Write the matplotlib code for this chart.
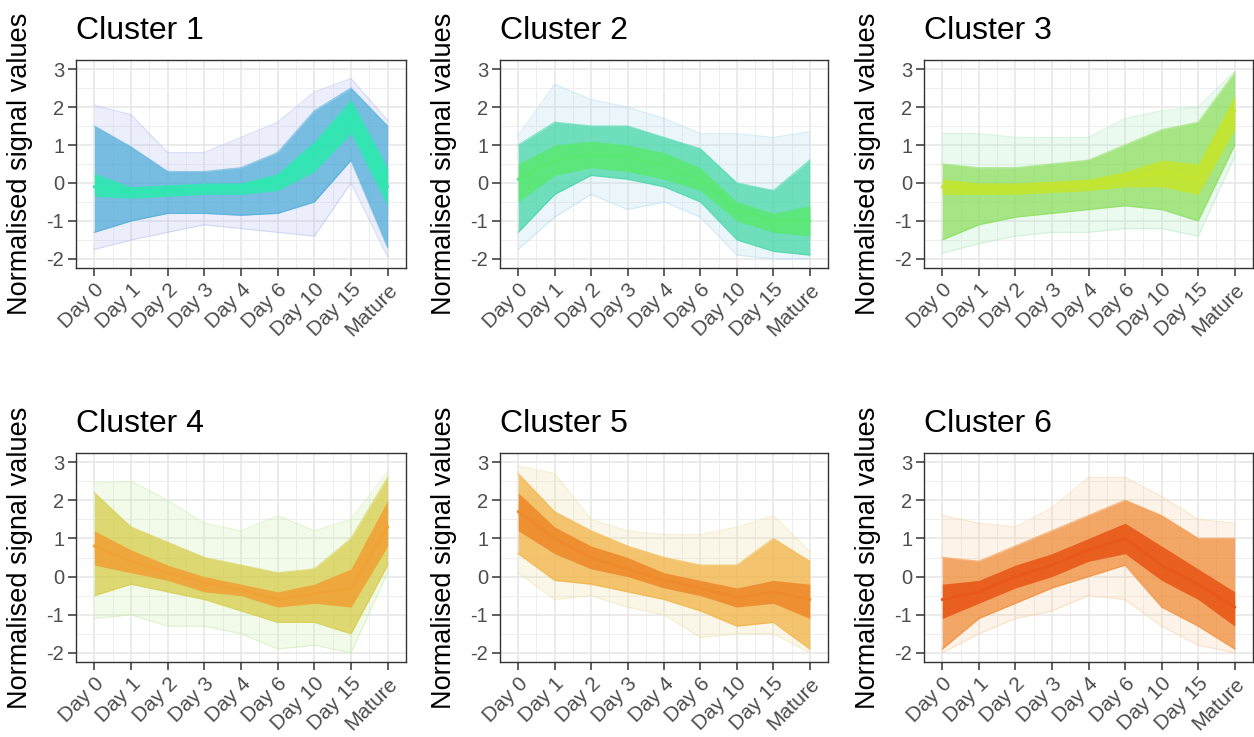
import numpy as np
import matplotlib
matplotlib.use("Agg")
import matplotlib.pyplot as plt

plt.rcParams['font.family'] = ['Liberation Sans', 'DejaVu Sans']

timepoints = ["Day 0", "Day 1", "Day 2", "Day 3", "Day 4", "Day 6", "Day 10", "Day 15", "Mature"]
cluster_names = ["Cluster 1", "Cluster 2", "Cluster 3", "Cluster 4", "Cluster 5", "Cluster 6"]

# Envelope of all profiles (faint outliers), dense band and core, per cluster
c1_faint_hi = [2.05, 1.8, 0.8, 0.8, 1.2, 1.6, 2.4, 2.75, 1.65]
c1_faint_lo = [-1.75, -1.5, -1.3, -1.1, -1.2, -1.3, -1.4, 0.0, -1.95]
c1_dense_hi = [1.5, 0.95, 0.3, 0.3, 0.4, 0.8, 1.9, 2.5, 1.5]
c1_dense_lo = [-1.3, -1.0, -0.8, -0.8, -0.85, -0.8, -0.5, 0.6, -1.7]
c1_core_hi = [0.25, -0.1, -0.05, 0.0, 0.0, 0.25, 1.1, 2.2, 0.4]
c1_core_lo = [-0.35, -0.4, -0.35, -0.3, -0.3, -0.2, 0.3, 1.3, -0.6]
c1_center = [-0.1, -0.25, -0.2, -0.15, -0.1, 0.05, 0.8, 1.8, -0.1]

c2_faint_hi = [1.25, 2.6, 2.2, 2.0, 1.7, 1.3, 1.3, 1.2, 1.35]
c2_faint_lo = [-1.75, -0.9, -0.3, -0.7, -0.5, -0.9, -1.9, -2.0, -2.0]
c2_dense_hi = [1.0, 1.6, 1.5, 1.5, 1.2, 0.9, 0.0, -0.2, 0.6]
c2_dense_lo = [-1.3, -0.3, 0.2, 0.1, -0.1, -0.5, -1.5, -1.8, -1.9]
c2_core_hi = [0.5, 1.0, 1.1, 1.0, 0.8, 0.4, -0.5, -0.8, -0.6]
c2_core_lo = [-0.5, 0.2, 0.4, 0.3, 0.1, -0.2, -1.0, -1.3, -1.4]
c2_center = [0.1, 0.6, 0.75, 0.7, 0.45, 0.1, -0.7, -1.0, -1.0]

c3_faint_hi = [1.3, 1.3, 1.2, 1.2, 1.2, 1.7, 1.9, 2.0, 2.95]
c3_faint_lo = [-1.85, -1.6, -1.4, -1.3, -1.3, -1.2, -1.2, -1.4, 0.7]
c3_dense_hi = [0.5, 0.4, 0.4, 0.5, 0.6, 1.0, 1.4, 1.6, 2.9]
c3_dense_lo = [-1.5, -1.1, -0.9, -0.8, -0.7, -0.6, -0.7, -1.0, 1.0]
c3_core_hi = [0.1, 0.0, 0.0, 0.05, 0.1, 0.3, 0.6, 0.5, 2.3]
c3_core_lo = [-0.3, -0.3, -0.3, -0.25, -0.2, -0.1, -0.1, -0.3, 1.4]
c3_center = [-0.1, -0.1, -0.1, -0.1, -0.05, 0.1, 0.3, 0.1, 1.9]

c4_faint_hi = [2.45, 2.5, 2.0, 1.4, 1.2, 1.6, 1.2, 1.5, 2.75]
c4_faint_lo = [-1.1, -1.0, -1.3, -1.3, -1.5, -1.9, -1.8, -2.0, 0.1]
c4_dense_hi = [2.2, 1.3, 0.9, 0.5, 0.3, 0.1, 0.2, 1.0, 2.6]
c4_dense_lo = [-0.5, -0.2, -0.4, -0.6, -0.9, -1.2, -1.2, -1.5, 0.3]
c4_core_hi = [1.2, 0.7, 0.3, 0.0, -0.2, -0.4, -0.2, 0.2, 2.0]
c4_core_lo = [0.3, 0.1, -0.1, -0.4, -0.5, -0.8, -0.7, -0.8, 0.8]
c4_center = [0.8, 0.4, 0.1, -0.15, -0.35, -0.6, -0.45, -0.3, 1.3]

c5_faint_hi = [2.9, 2.7, 1.5, 1.2, 1.1, 1.1, 1.3, 1.6, 0.65]
c5_faint_lo = [0.1, -0.6, -0.5, -0.8, -1.0, -1.6, -1.5, -1.5, -2.0]
c5_dense_hi = [2.7, 1.7, 1.2, 0.8, 0.5, 0.3, 0.3, 1.0, 0.4]
c5_dense_lo = [0.6, -0.1, -0.2, -0.4, -0.6, -0.9, -1.3, -1.2, -1.9]
c5_core_hi = [2.2, 1.3, 0.8, 0.5, 0.1, -0.1, -0.3, -0.1, -0.2]
c5_core_lo = [1.2, 0.6, 0.2, 0.0, -0.3, -0.5, -0.8, -0.7, -1.1]
c5_center = [1.7, 1.0, 0.5, 0.2, -0.1, -0.3, -0.55, -0.4, -0.6]

c6_faint_hi = [1.6, 1.4, 1.3, 1.8, 2.6, 2.6, 2.1, 1.5, 1.4]
c6_faint_lo = [-2.0, -1.5, -1.1, -0.9, -0.5, -0.6, -1.3, -1.8, -2.0]
c6_dense_hi = [0.5, 0.4, 0.8, 1.2, 1.6, 2.0, 1.6, 1.0, 1.0]
c6_dense_lo = [-1.9, -1.1, -0.7, -0.3, 0.0, 0.3, -0.8, -1.3, -1.9]
c6_core_hi = [-0.2, -0.1, 0.3, 0.6, 1.0, 1.4, 0.8, 0.2, -0.4]
c6_core_lo = [-1.1, -0.7, -0.3, 0.0, 0.4, 0.6, -0.1, -0.6, -1.3]
c6_center = [-0.6, -0.4, 0.0, 0.3, 0.7, 1.0, 0.3, -0.2, -0.8]

clusters = [
    (c1_faint_hi, c1_faint_lo, c1_dense_hi, c1_dense_lo, c1_core_hi, c1_core_lo, c1_center),
    (c2_faint_hi, c2_faint_lo, c2_dense_hi, c2_dense_lo, c2_core_hi, c2_core_lo, c2_center),
    (c3_faint_hi, c3_faint_lo, c3_dense_hi, c3_dense_lo, c3_core_hi, c3_core_lo, c3_center),
    (c4_faint_hi, c4_faint_lo, c4_dense_hi, c4_dense_lo, c4_core_hi, c4_core_lo, c4_center),
    (c5_faint_hi, c5_faint_lo, c5_dense_hi, c5_dense_lo, c5_core_hi, c5_core_lo, c5_center),
    (c6_faint_hi, c6_faint_lo, c6_dense_hi, c6_dense_lo, c6_core_hi, c6_core_lo, c6_center),
]

# (faint colour, band colour, core colour)
palettes = [
    ("#a9b8ee", "#4aaad8", "#2ee8b0"),
    ("#a8d8ee", "#3fd6a4", "#5ae874"),
    ("#a8eab8", "#8ade5a", "#c4e62e"),
    ("#c4eca0", "#d6cc44", "#f0a236"),
    ("#ecdf9c", "#f2b03e", "#ee8a2c"),
    ("#f6cc98", "#f08a34", "#e85818"),
]

fig = plt.figure(figsize=(12.54, 7.37), dpi=100)
W, H = 1254, 737
col_left = [76, 500, 924]
col_right = [406, 828, 1253]
row_top = [60, 453]
row_bot = [268, 662]
ylabel_right_px = [33, 457, 881]

x = np.arange(len(timepoints))

for i, (name, data, pal) in enumerate(zip(cluster_names, clusters, palettes)):
    r, c = divmod(i, 3)
    ax = fig.add_axes([col_left[c] / W, 1 - row_bot[r] / H,
                       (col_right[c] - col_left[c]) / W, (row_bot[r] - row_top[r]) / H])
    fhi, flo, dhi, dlo, chi, clo, cen = [np.array(v) for v in data]
    fc, bc, cc = pal
    ax.fill_between(x, flo, fhi, color=fc, alpha=0.22, lw=0, zorder=2)
    for arr in (fhi, flo):
        ax.plot(x, arr, color=fc, alpha=0.45, lw=0.8, zorder=2)
    ax.fill_between(x, dlo, dhi, color=bc, alpha=0.72, lw=0, zorder=3)
    for arr in (dhi, dlo):
        ax.plot(x, arr, color=bc, alpha=0.55, lw=1.0, zorder=3)
    ax.fill_between(x, clo, chi, color=cc, alpha=0.9, lw=0, zorder=4)
    ax.plot(x, cen, color=cc, lw=2.0, zorder=5)

    ax.set_xlim(-0.4, 8.37)
    ax.set_ylim(-2.24, 3.24)
    ax.set_xticks(x)
    ax.set_xticklabels(timepoints, rotation=45, ha='right', va='top',
                       rotation_mode='anchor', fontsize=15, color='#4d4d4d')
    ax.set_xticks(np.arange(-0.5, 8.6, 1.0), minor=True)
    ax.set_yticks([-2, -1, 0, 1, 2, 3])
    ax.set_yticklabels(["-2", "-1", "0", "1", "2", "3"], fontsize=14.5, color='#4d4d4d')
    ax.set_yticks([-1.5, -0.5, 0.5, 1.5, 2.5], minor=True)
    ax.grid(True, which='major', color='#e6e6e6', lw=1.1, zorder=0)
    ax.grid(True, which='minor', color='#eeeeee', lw=0.7, zorder=0)
    ax.set_axisbelow(True)
    ax.tick_params(which='major', length=5.5, width=1.1, color='#333333', pad=3)
    ax.tick_params(which='minor', length=0)
    for s in ax.spines.values():
        s.set_color('#333333')
        s.set_linewidth(1.0)
        s.set_zorder(10)
    ax.set_title(name, loc='left', fontsize=23, pad=15)
    ax.set_ylabel("Normalised signal values", fontsize=19.5)
    ax.yaxis.set_label_coords((ylabel_right_px[c] - col_left[c]) / (col_right[c] - col_left[c]), 0.5)

fig.savefig("out.png", dpi=100)
